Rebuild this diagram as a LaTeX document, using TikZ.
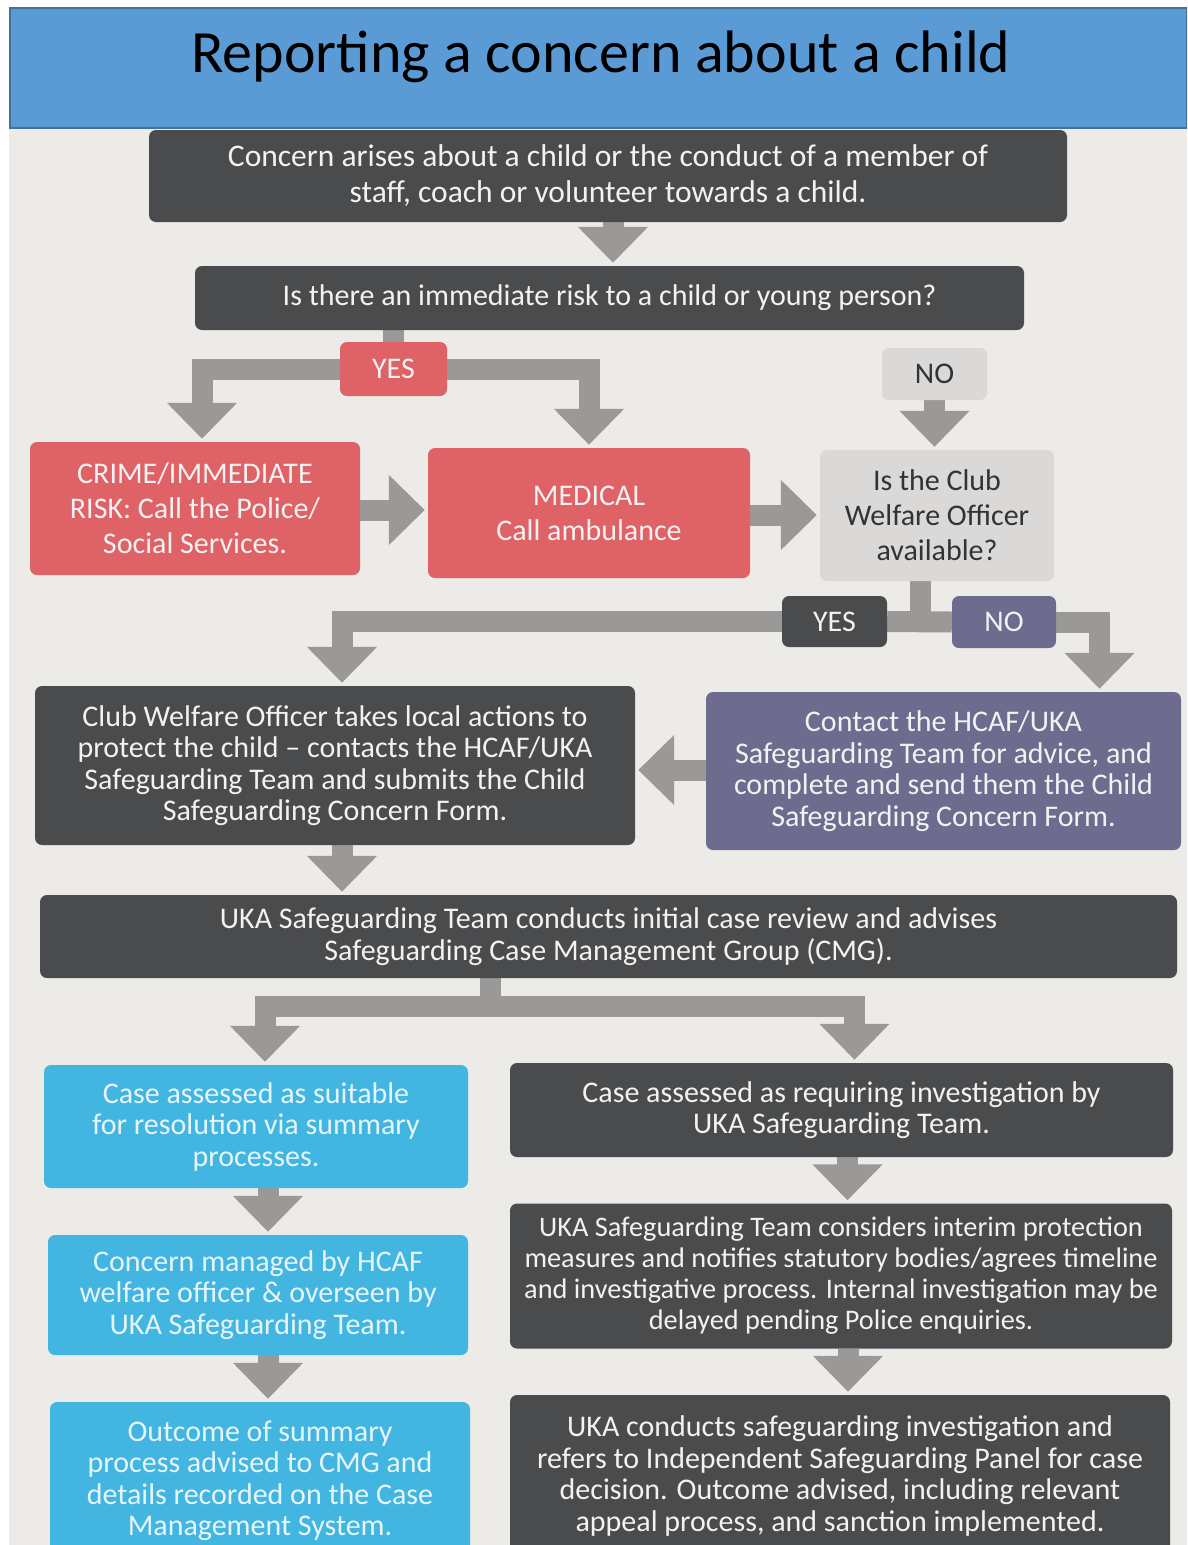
\documentclass[tikz,border=0pt]{standalone}
\usepackage{fontspec}
\setmainfont{Carlito}
\usetikzlibrary{arrows.meta}
\definecolor{pagebg}{HTML}{ECEBE8}
\definecolor{darkbox}{HTML}{4A4B4D}
\definecolor{redbox}{HTML}{DE6266}
\definecolor{lightbox}{HTML}{DBD9D7}
\definecolor{purplebox}{HTML}{6D6C8F}
\definecolor{bluebox}{HTML}{42B5E0}
\definecolor{arrowgray}{HTML}{9B9998}
\definecolor{titleblue}{HTML}{5B9BD5}
\definecolor{titleborder}{HTML}{41719C}
\definecolor{paletext}{HTML}{F2F2F2}
\definecolor{bluetext}{HTML}{E6F5FB}
\definecolor{darktext}{HTML}{333333}
\pgfdeclarelayer{bg}\pgfdeclarelayer{conn}\pgfsetlayers{bg,conn,main}
\begin{document}
\begin{tikzpicture}[x=1pt,y=-1pt,
  box/.style={rounded corners=7pt, inner sep=0pt, align=center,
    font=\fontsize{30}{31.5}\selectfont},
  darkb/.style={box, fill=darkbox, text=paletext},
  redb/.style={box, fill=redbox, text=paletext},
  lightb/.style={box, fill=lightbox, text=darktext},
  purpb/.style={box, fill=purplebox, text=paletext},
  blueb/.style={box, fill=bluebox, text=bluetext},
  bar/.style={draw=arrowgray, line width=21pt},
  arr/.style={bar, -{Triangle[width=68pt,length=36pt]}, shorten >=3pt}]
\useasboundingbox (0,0) rectangle (1187,1545);
\clip (0,0) rectangle (1187,1545);
\begin{pgfonlayer}{bg}
\fill[white] (0,0) rectangle (1187,1545);
\fill[pagebg] (9,120) rectangle (1187,1545);
\end{pgfonlayer}

% title
\node[draw=titleborder, line width=2pt, fill=titleblue, minimum width=1177, minimum height=120, inner sep=0pt] (title) at (598,68) {};
\node[font=\fontsize{60}{66}\selectfont, text=black, inner sep=0pt] (titletext) at (601,57) {Reporting a concern about a child};

% boxes
\node[darkb, minimum width=918, minimum height=92, font=\fontsize{31.5}{36}\selectfont] (concern) at (608,176)
  {Concern arises about a child or the conduct of a member of\\ staff, coach or volunteer towards a child.};
\node[darkb, minimum width=829, minimum height=64] (risk) at (609.5,298)
  {Is there an immediate risk to a child or young person?};
\node[redb, minimum width=107, minimum height=54] (yes) at (393.5,369) {YES};
\node[lightb, minimum width=105, minimum height=52] (no) at (934.5,374) {NO};
\node[redb, minimum width=330, minimum height=133, font=\fontsize{30}{35}\selectfont] (crime) at (195,508.5)
  {CRIME/IMMEDIATE\\ RISK: Call the Police/\\ Social Services.};
\node[redb, minimum width=322, minimum height=130, font=\fontsize{30}{35}\selectfont] (medical) at (589,513)
  {MEDICAL\\ Call ambulance};
\node[lightb, minimum width=234, minimum height=131, font=\fontsize{30}{35}\selectfont] (club) at (937,515.5)
  {Is the Club\\ Welfare Officer\\ available?};
\node[darkb, minimum width=105, minimum height=51] (yes2) at (834.5,621.5) {YES};
\node[purpb, minimum width=104, minimum height=52] (no2) at (1004,622) {NO};
\node[darkb, minimum width=600, minimum height=159] (cwo) at (335,765.5)
  {Club Welfare Officer takes local actions to\\ protect the child -- contacts the HCAF/UKA\\ Safeguarding Team and submits the Child\\ Safeguarding Concern Form.};
\node[purpb, minimum width=475, minimum height=158] (contact) at (943.5,771)
  {Contact the HCAF/UKA\\ Safeguarding Team for advice, and\\ complete and send them the Child\\ Safeguarding Concern Form.};
\node[darkb, minimum width=1137, minimum height=83] (uka) at (608.5,936.5)
  {UKA Safeguarding Team conducts initial case review and advises\\ Safeguarding Case Management Group (CMG).};
\node[blueb, minimum width=424, minimum height=123] (boxA) at (256,1126.5)
  {Case assessed as suitable\\ for resolution via summary\\ processes.};
\node[blueb, minimum width=420, minimum height=120] (boxB) at (258,1295)
  {Concern managed by HCAF\\ welfare officer \& overseen by\\ UKA Safeguarding Team.};
\node[blueb, minimum width=420, minimum height=158] (boxC) at (260,1481)
  {Outcome of summary\\ process advised to CMG and\\ details recorded on the Case\\ Management System.};
\node[darkb, minimum width=663, minimum height=94] (boxD) at (841.5,1110)
  {Case assessed as requiring investigation by\\ UKA Safeguarding Team.};
\node[darkb, minimum width=662, minimum height=145, font=\fontsize{28.3}{31}\selectfont] (boxE) at (841,1276)
  {UKA Safeguarding Team considers interim protection\\ measures and notifies statutory bodies/agrees timeline\\ and investigative process. Internal investigation may be\\ delayed pending Police enquiries.};
\node[darkb, minimum width=660, minimum height=162] (boxF) at (840,1476)
  {UKA conducts safeguarding investigation and\\ refers to Independent Safeguarding Panel for case\\ decision. Outcome advised, including relevant\\ appeal process, and sanction implemented.};

\coordinate (j1) at (920,622);
\coordinate (split) at (490,1006);

\begin{pgfonlayer}{conn}
\draw[arr] ([xshift=5pt]concern.south) -- ([xshift=5pt]concern.south |- risk.north);
\draw[bar] (risk.south -| yes.north) -- (yes.north);
\draw[arr] (yes.west) -| ([xshift=7pt]crime.north);
\draw[arr] (yes.east) -| (medical.north);
\draw[arr] (no.south) -- (no.south |- club.north);
\draw[arr] (crime.east |- 0,510) -- (medical.west |- 0,510);
\draw[arr] (medical.east |- 0,515) -- (club.west |- 0,515);
\draw[bar] (club.south -| j1) -- (j1);
\draw[bar] (yes2.east) -- (no2.west);
\draw[arr] (yes2.west) -| ([xshift=7pt]cwo.north);
\draw[arr] (no2.east) -| ([xshift=156pt]contact.north);
\draw[arr] (contact.west |- 0,770) -- (cwo.east |- 0,770);
\draw[arr] ([xshift=7pt]cwo.south) -- ([xshift=7pt]cwo.south |- uka.north);
\draw[bar] (uka.south -| split) -- (split);
\draw[arr] (split) -| ([xshift=9pt]boxA.north);
\draw[arr] (split) -| ([xshift=13pt]boxD.north);
\draw[arr] ([xshift=12pt]boxA.south) -- ([xshift=12pt]boxA.south |- boxB.north);
\draw[arr] ([xshift=10pt]boxB.south) -- ([xshift=10pt]boxB.south |- boxC.north);
\draw[arr] ([xshift=6pt]boxD.south) -- ([xshift=6pt]boxD.south |- boxE.north);
\draw[arr] ([xshift=7pt]boxE.south) -- ([xshift=7pt]boxE.south |- boxF.north);
\end{pgfonlayer}
\end{tikzpicture}
\end{document}
